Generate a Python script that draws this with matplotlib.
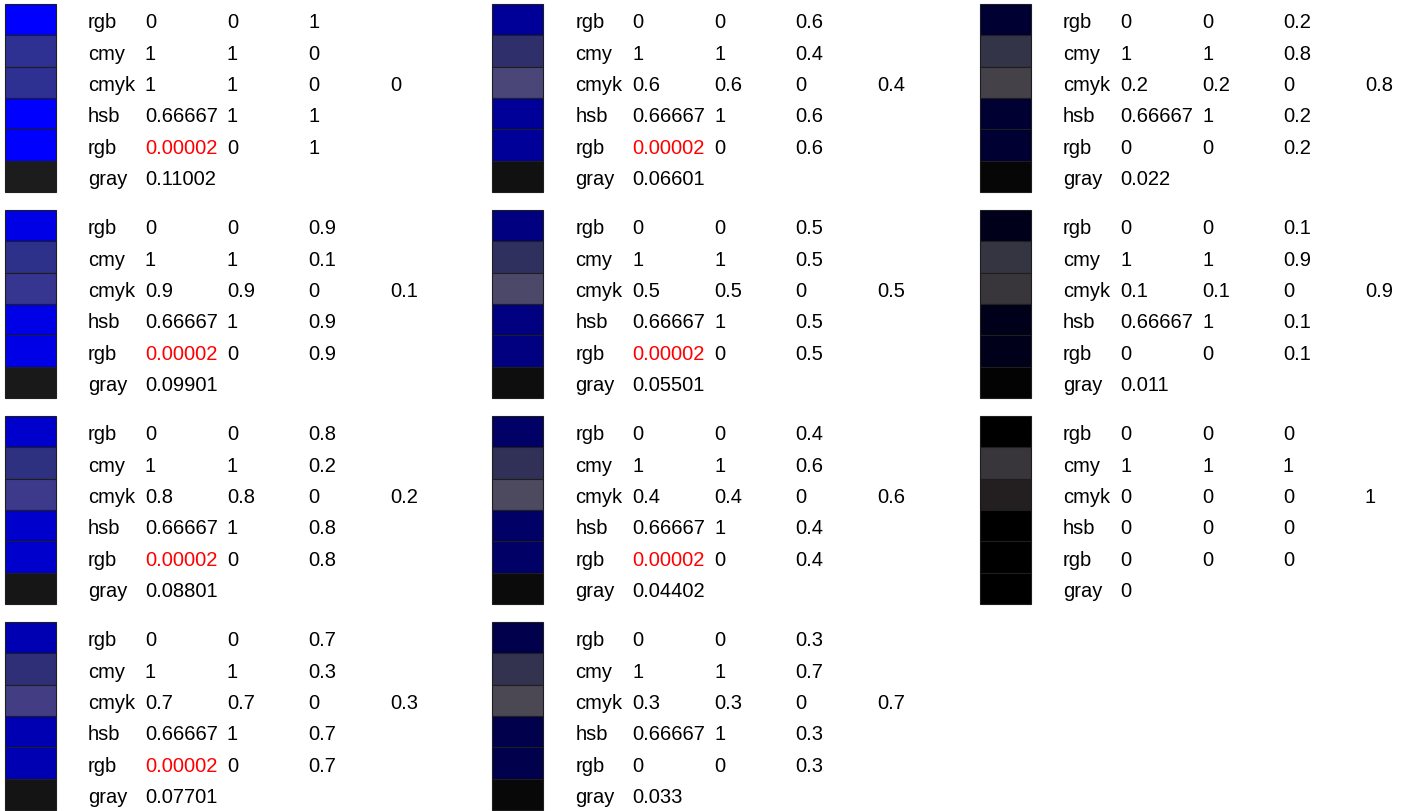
import matplotlib
matplotlib.use("Agg")
import numpy as np
import matplotlib.pyplot as plt
from matplotlib.patches import Rectangle
from matplotlib.colors import hsv_to_rgb

# blue level of each group, in reading order (column by column)
levels = [1, 0.9, 0.8, 0.7, 0.6, 0.5, 0.4, 0.3, 0.2, 0.1, 0]
level_txt = ['1', '0.9', '0.8', '0.7', '0.6', '0.5', '0.4', '0.3', '0.2', '0.1', '0']
comp_txt = ['0', '0.1', '0.2', '0.3', '0.4', '0.5', '0.6', '0.7', '0.8', '0.9', '1']
hue = [0.66667] * 10 + [0]
hue_txt = ['0.66667'] * 10 + ['0']
sat = [1] * 10 + [0]
sat_txt = ['1'] * 10 + ['0']
red_txt = ['0.00002'] * 7 + ['0'] * 4
gray = [0.11002, 0.09901, 0.08801, 0.07701, 0.06601, 0.05501, 0.04402,
        0.033, 0.022, 0.011, 0]
gray_txt = ['0.11002', '0.09901', '0.08801', '0.07701', '0.06601', '0.05501',
            '0.04402', '0.033', '0.022', '0.011', '0']

# how the viewer rendered the cmy / cmyk swatches
cmy_shown = ['#2e3192', '#2e3189', '#2e3080', '#2e2f76', '#2f2f6b', '#30305f',
             '#313056', '#33324f', '#343449', '#353541', '#38363b']
cmyk_shown = ['#2e3192', '#363590', '#3d3a8b', '#433e83', '#4a4677', '#4c4869',
              '#4d495e', '#4b4753', '#444148', '#38363b', '#231f20']

W, H = 1413, 812
fig = plt.figure(figsize=(W / 100, H / 100), dpi=100)
ax = fig.add_axes([0, 0, 1, 1])
ax.set_xlim(0, W)
ax.set_ylim(H, 0)
ax.axis('off')

font = dict(family='Liberation Sans', fontsize=14.5)
n_rows = 4
col_w, grp_h = 487.5, 206
sw_w, sw_h = 51, 31.3
val_x = [57, 139, 220, 302]  # offsets from the label column

for i, v in enumerate(levels):
    gx = 4.5 + (i // n_rows) * col_w
    gy = 5 + (i % n_rows) * grp_h
    hsb_rgb = hsv_to_rgb(np.array([hue[i], sat[i], v], dtype=float))
    rows = [
        ('rgb', (0, 0, v), ['0', '0', level_txt[i]]),
        ('cmy', cmy_shown[i], ['1', '1', comp_txt[i]]),
        ('cmyk', cmyk_shown[i], [level_txt[i], level_txt[i], '0', comp_txt[i]]),
        ('hsb', hsb_rgb, [hue_txt[i], sat_txt[i], level_txt[i]]),
        ('rgb', (0, 0, v), [red_txt[i], '0', level_txt[i]]),
        ('gray', (gray[i],) * 3, [gray_txt[i]]),
    ]
    for r, (name, color, vals) in enumerate(rows):
        y = gy + r * sw_h
        ax.add_patch(Rectangle((gx, y), sw_w, sw_h, facecolor=color,
                               edgecolor='#1e1e1e', linewidth=0.8))
        base = y + sw_h * 0.745
        lx = gx + 83.5
        ax.text(lx, base, name, va='baseline', ha='left', **font)
        for k, s in enumerate(vals):
            c = 'red' if (r == 4 and k == 0 and s != '0') else 'black'
            ax.text(lx + val_x[k], base, s, va='baseline', ha='left', color=c, **font)

fig.savefig('out.png', dpi=100)
